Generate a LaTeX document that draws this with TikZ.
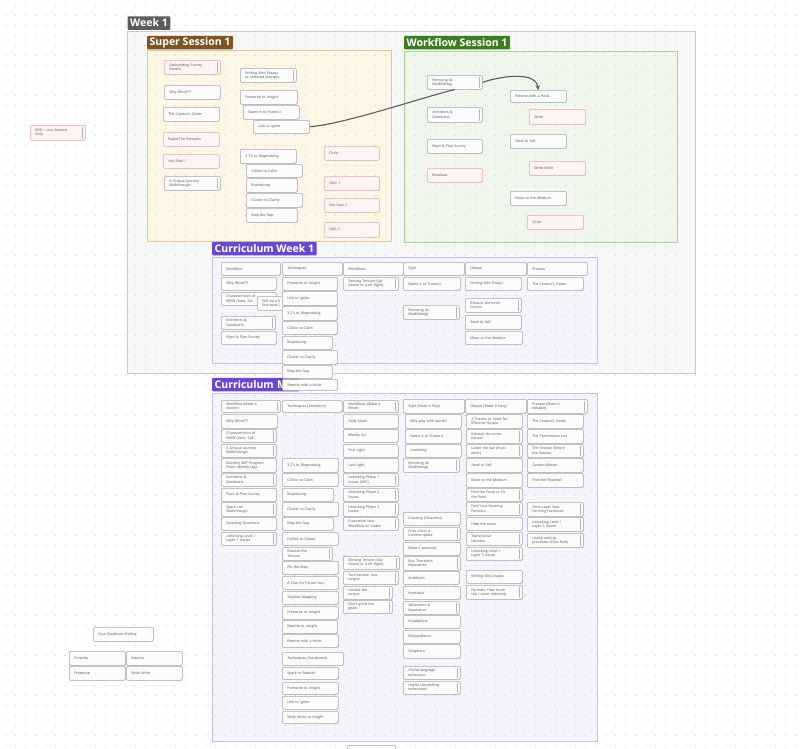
\documentclass[tikz,border=0pt]{standalone}
\usepackage{fontspec}
\setmainfont{Open Sans}
\usetikzlibrary{arrows.meta,shadows}
\definecolor{dotc}{HTML}{CFCFCF}
\definecolor{wkfill}{HTML}{F7F7F7}
\definecolor{wkdraw}{HTML}{CCCCCC}
\definecolor{ssfill}{HTML}{FDF6E6}
\definecolor{ssdraw}{HTML}{E4C88F}
\definecolor{wffill}{HTML}{F0F6EC}
\definecolor{wfdraw}{HTML}{A9D19A}
\definecolor{cufill}{HTML}{F5F3FC}
\definecolor{cudraw}{HTML}{C6BDEA}
\definecolor{wklab}{HTML}{5C5C5C}
\definecolor{sslab}{HTML}{7D5423}
\definecolor{wflab}{HTML}{3E7D22}
\definecolor{culab}{HTML}{6A48CC}
\definecolor{gfill}{HTML}{FBFBFB}
\definecolor{gbd}{HTML}{A8A8A8}
\definecolor{pfill}{HTML}{FFF4F3}
\definecolor{pbd}{HTML}{E9A9A6}
\definecolor{sbc}{HTML}{B5B5B5}
\definecolor{txt}{HTML}{555555}
\definecolor{connc}{HTML}{5C5C5C}
\tikzset{
  frame/.style={line width=0.8pt},
  lab/.style={text=white, font=\fontsize{10.5}{12}\selectfont\bfseries, inner xsep=2.5pt, inner ysep=0pt, minimum height=13.5pt, anchor=south west, rounded corners=0.8pt},
  basebox/.style={line width=0.55pt, rounded corners=1.2pt, drop shadow={shadow xshift=0.3pt,shadow yshift=-0.5pt,opacity=0.18}, inner xsep=2pt, inner ysep=0.3pt, align=left, font=\fontsize{3.6}{4.3}\selectfont, text=txt},
  gbox/.style={basebox, draw=gbd, fill=gfill},
  pbox/.style={basebox, draw=pbd, fill=pfill},
  conn/.style={draw=connc, line width=1.1pt},
}
\newcommand\bxx[7]{%
  \pgfmathsetmacro\Bw{#5-#3}%
  \pgfmathsetmacro\Bh{#6-#4}%
  \pgfmathsetmacro\Tw{#5-#3-10}%
  \node[#1, anchor=north west, minimum width=\Bw pt, minimum height=\Bh pt, text width=\Tw pt] (#2) at (#3,#4) {#7};}
\newcommand\sbar[1]{\fill[sbc] ([xshift=-3.4pt,yshift=-2pt]#1.north east) rectangle ([xshift=-2.1pt,yshift=2pt]#1.south east);}
\newcommand\bgr[6]{\bxx{gbox}{#1}{#2}{#3}{#4}{#5}{#6}}
\newcommand\bgs[6]{\bxx{gbox}{#1}{#2}{#3}{#4}{#5}{#6}\sbar{#1}}
\newcommand\bpk[6]{\bxx{pbox}{#1}{#2}{#3}{#4}{#5}{#6}}
\newcommand\bps[6]{\bxx{pbox}{#1}{#2}{#3}{#4}{#5}{#6}\sbar{#1}}
\begin{document}
\begin{tikzpicture}[x=1pt,y=-1pt]
\useasboundingbox (0,0) rectangle (800,748);
\fill[white] (0,0) rectangle (800,748);
% frames
\draw[frame, fill=wkfill, draw=wkdraw] (127,31) rectangle (695,373);
\draw[frame, fill=ssfill, draw=ssdraw] (147,50) rectangle (391,241);
\draw[frame, fill=wffill, draw=wfdraw] (404,51) rectangle (677,242);
\draw[frame, fill=cufill, draw=cudraw] (212,257) rectangle (597,363);
\draw[frame, fill=cufill, draw=cudraw] (212,393) rectangle (597,741);
% dot grid
\foreach \yy in {5,15,...,745} {\draw[dotc, line width=0.9pt, dash pattern=on 0.9pt off 9.1pt] (4.55,\yy) -- (800,\yy);}
% labels
\node[lab, fill=wklab] (wk) at (127.5,30) {Week 1};
\node[lab, fill=sslab] (sslab) at (147,49.5) {Super Session 1};
\node[lab, fill=wflab] (wflab) at (404,49.5) {Workflow Session 1};
\node[lab, fill=culab] (cu1lab) at (212,255.5) {Curriculum Week 1};
\node[lab, fill=culab, text width=82pt, align=left] (cumlab) at (212,391.5) {Curriculum M};
% left
\bps{red}{30}{125}{85}{140}{RED = Live Session\\Only}
% Super Session 1
\bps{ss1}{164}{60}{220}{74}{Onboarding Survey\\Results}
\bgs{ss2}{240}{68}{296}{82}{Writing Mini Essays\\or selected Excerpts}
\bgr{ss3}{164}{85}{220}{99}{Why Write???}
\bgr{ss4}{240}{90}{297}{104}{Freewrite to Insight}
\bgr{ss5}{243}{105}{299}{119}{Name it to Frame it}
\bgr{ss6}{163}{107}{219}{121}{The Creator's Codex}
\bgr{ss7}{253}{120}{309}{133}{Link to Ignite}
\bpk{ss8}{163}{132}{219}{146}{Rapid-Fire Remarks}
\bpk{ss9}{163}{154}{219}{168}{Hot Seat 1}
\bgs{ss10}{164}{176}{220}{190}{A Unique Journey\\Walkthrough}
\bgr{ss11}{240}{149}{296}{163}{3 C's to Mapmaking}
\bgr{ss12}{246}{164}{302}{177}{Collect to Calm}
\bgr{ss13}{246}{178}{297}{192}{Braindump}
\bgr{ss14}{246}{193}{302}{207}{Cluster to Clarify}
\bgr{ss15}{246}{208}{297}{222}{Map the Gap}
\bpk{ss16}{324}{146}{379}{160}{Circle}
\bpk{ss17}{324}{176}{379}{190}{Q\&A 1}
\bpk{ss18}{324}{198}{379}{212}{Hot Seat 2}
\bpk{ss19}{324}{222}{379}{237}{Q\&A 2}
% Workflow Session 1
\bgs{wf1}{427}{75}{482}{89}{Remixing (\&\\Madlibbing)}
\bgr{wf2}{510}{90}{566}{102}{Rewrite with a Hook}
\bgs{wf3}{427}{107}{482}{122}{Architects \&\\Gardeners}
\bpk{wf4}{529}{109}{585}{124}{Write}
\bgr{wf5}{427}{139}{482}{153}{Plant \& Plan Survey}
\bgr{wf6}{510}{134}{566}{148}{Send to Self}
\bpk{wf7}{427}{168}{482}{182}{Breakout}
\bpk{wf8}{529}{161}{585}{175}{Write Write}
\bgr{wf9}{510}{191}{566}{205}{Move to the Medium}
\bpk{wf10}{527}{215}{583}{229}{Circle}
% Curriculum Week 1
\bgr{c1a}{221}{262}{280}{275}{Workflow}
\bgr{c1b}{221}{277}{276}{290}{Why Write???}
\bgr{c1c}{221}{292}{276}{305}{Characteristics of\\WDW (here, Sel}
\bgr{c1w}{257}{296}{300}{310}{Will be a fi\\fine-tune (}
\bgs{c1d}{221}{316}{275}{329}{Architects \&\\Gardeners}
\bgr{c1e}{221}{331}{276}{344}{Plant \& Plan Survey}
\bgr{c2a}{282}{262}{342}{275}{Techniques}
\bgr{c2b}{282}{277}{337}{290}{Freewrite to Insight}
\bgr{c2c}{282}{291}{337}{305}{Link to Ignite}
\bgr{c2d}{282}{306}{337}{320}{3 C's to Mapmaking}
\bgr{c2e}{282}{321}{337}{334}{Collect to Calm}
\bgr{c2f}{282}{336}{332}{349}{Braindump}
\bgr{c2g}{282}{350}{337}{364}{Cluster to Clarify}
\bgr{c2h}{282}{365}{332}{378}{Map the Gap}
\bgr{c2i}{282}{379}{337}{390}{Rewrite with a Hook}
\bgr{c3a}{343}{262}{403}{275}{Workflows}
\bgs{c3b}{343}{277}{398}{290}{Sensing Tension (Up\\Down) or (Left Right)}
\bgr{c4a}{403}{262}{464}{275}{Style}
\bgr{c4b}{403}{277}{460}{290}{Name it to Frame it}
\bgs{c4c}{403}{305}{459}{319}{Remixing (\&\\Madlibbing)}
\bgr{c5a}{465}{262}{526}{275}{Output}
\bgr{c5b}{465}{277}{521}{290}{Writing Mini Essays}
\bgs{c5c}{465}{298}{521}{312}{Exhaust the Inner\\Censor}
\bgr{c5d}{465}{315}{521}{329}{Send to Self}
\bgr{c5e}{465}{331}{522}{344}{Move to the Medium}
\bgr{c6a}{527}{262}{587}{275}{Process}
\bgr{c6b}{527}{277}{583}{290}{The Creator's Codex}
% Curriculum M
\bgs{m1a}{221}{400}{280}{412}{Workflow (Make it\\Matter)}
\bgr{m1b}{221}{414}{277}{428}{Why Write???}
\bgs{m1c}{221}{429}{276}{442}{Characteristics of\\WDW (here, Self-}
\bgs{m1d}{221}{444}{276}{457}{A Unique Journey\\Walkthrough}
\bgr{m1e}{221}{458}{276}{472}{Monthly WIP Progress\\Posts Identify tags}
\bgs{m1f}{221}{473}{276}{486}{Architects \&\\Gardeners}
\bgr{m1g}{221}{488}{276}{501}{Plant \& Plan Survey}
\bgs{m1h}{221}{502}{276}{516}{Spark List\\Walkthrough}
\bgr{m1i}{221}{517}{276}{530}{Questing Questions}
\bgs{m1j}{221}{532}{276}{545}{Unlocking Level /\\Layer 1 Issues}
\bgr{m2a}{282}{400}{342}{412}{Techniques (Architects)}
\bgr{m2b}{282}{458}{338}{472}{3 C's to Mapmaking}
\bgr{m2c}{282}{473}{338}{486}{Collect to Calm}
\bgr{m2d}{282}{488}{333}{501}{Braindump}
\bgr{m2e}{282}{502}{338}{516}{Cluster to Clarify}
\bgr{m2f}{282}{517}{333}{530}{Map the Gap}
\bgr{m2g}{282}{532}{338}{545}{Collide to Create}
\bgs{m2h}{282}{547}{332}{560}{Resolve the\\Tension}
\bgr{m2i}{282}{561}{338}{574}{Pin the Map}
\bgr{m2j}{282}{576}{338}{589}{A Clue for Future You}
\bgr{m2k}{282}{591}{338}{604}{Shadow Mapping}
\bgr{m2l}{282}{606}{338}{619}{Freewrite to Insight}
\bgr{m2m}{282}{620}{337}{633}{Rewrite to Insight}
\bgr{m2n}{282}{634}{338}{647}{Rewrite with a Hook}
\bgr{m2o}{282}{652}{343}{665}{Techniques (Gardeners)}
\bgr{m2p}{282}{667}{338}{679}{Spark to Rework}
\bgr{m2q}{282}{682}{338}{694}{Freewrite to Insight}
\bgr{m2r}{282}{696}{338}{709}{Link to Ignite}
\bgr{m2s}{282}{711}{338}{723}{Write Write to Insight}
\bgs{m3a}{343}{400}{398}{412}{Workflows (Make it\\Move)}
\bgr{m3b}{343}{414}{398}{428}{Daily Spark}
\bgr{m3c}{343}{429}{398}{442}{Weekly Arc}
\bgr{m3d}{343}{444}{398}{457}{First Light}
\bgr{m3e}{343}{458}{398}{472}{Last Light}
\bgs{m3f}{343}{473}{398}{486}{Unlocking Phase 1\\Issues (ARC)}
\bgs{m3g}{343}{488}{398}{501}{Unlocking Phase 2\\Issues}
\bgs{m3h}{343}{502}{398}{516}{Unlocking Phase 3\\Issues}
\bgs{m3i}{343}{517}{398}{530}{Customize Your\\Workflow w/ Codex}
\bgs{m3j}{343}{556}{399}{569}{Sensing Tension (Up\\Down) or (Left Right)}
\bgs{m3k}{343}{571}{398}{584}{Turn tension into\\torque}
\bgs{m3l}{343}{586}{392}{599}{Unstick the\\torque}
\bgs{m3m}{343}{600}{392}{613}{Don't grind the\\gears}
\bgr{m4a}{403}{399}{464}{413}{Style (Make it Pop)}
\bgr{m4b}{405}{414}{461}{428}{Why play with words?}
\bgr{m4c}{405}{429}{461}{443}{Name it to Frame it}
\bgr{m4d}{405}{444}{461}{457}{Unwriting}
\bgs{m4e}{403}{458}{459}{472}{Remixing (\&\\Madlibbing)}
\bgr{m4f}{403}{512}{460}{525}{Crossing (Chiasmus)}
\bgs{m4g}{403}{527}{460}{540}{Criss-Cross a\\Commonplace}
\bgr{m4h}{403}{542}{460}{555}{Make it personal}
\bgs{m4i}{403}{556}{460}{570}{But, Therefore,\\Meanwhile}
\bgr{m4j}{403}{571}{459}{584}{Antithesis}
\bgr{m4k}{403}{586}{460}{599}{Antistasis}
\bgs{m4l}{403}{601}{459}{614}{Alliteration \&\\Assonance}
\bgr{m4m}{403}{615}{460}{628}{Anadiplosis}
\bgr{m4n}{403}{630}{460}{643}{Polysyndeton}
\bgr{m4o}{403}{644}{460}{658}{Anaphora}
\bgs{m4p}{403}{666}{460}{679}{Useful language\\enhancers}
\bgs{m4q}{403}{681}{460}{694}{Useful storytelling\\techniques}
\bgr{m5a}{465}{399}{526}{413}{Output (Make it Easy)}
\bgr{m5b}{466}{414}{522}{428}{3 Puzzles to Solve for\\Effective Output}
\bgs{m5c}{466}{429}{522}{443}{Exhaust the Inner\\Censor}
\bgs{m5d}{466}{444}{522}{457}{Lower the bar (must\\write)}
\bgr{m5e}{466}{458}{522}{472}{Send to Self}
\bgr{m5f}{466}{473}{522}{487}{Move to the Medium}
\bgs{m5g}{466}{488}{522}{501}{Find the Form to Fit\\the Point}
\bgs{m5h}{466}{502}{522}{515}{Find Your Forming\\Function}
\bgr{m5i}{466}{517}{522}{530}{Hide the notes}
\bgs{m5j}{466}{532}{522}{545}{Transitional\\Ideation}
\bgs{m5k}{466}{547}{522}{560}{Unlocking Level /\\Layer 3 Issues}
\bgr{m5l}{466}{570}{522}{583}{Writing Mini Essays}
\bgs{m5m}{466}{585}{522}{599}{Formats, How much\\can I cover indirectly}
\bgs{m6a}{527}{399}{587}{413}{Process (Make it\\Reliable)}
\bgr{m6b}{527}{414}{583}{428}{The Creator's Codex}
\bgr{m6c}{527}{429}{583}{443}{The Permissions List}
\bgs{m6d}{527}{444}{583}{457}{The Session Before\\the Session}
\bgr{m6e}{527}{458}{583}{472}{Garden Master}
\bgr{m6f}{527}{473}{583}{487}{Find the Flywheel}
\bgs{m6g}{527}{502}{583}{516}{Time-Layer Your\\Forming Functions}
\bgs{m6h}{527}{517}{583}{531}{Unlocking Level /\\Layer 2 Issues}
\bgs{m6i}{527}{533}{583}{547}{Useful writing\\processes (Grav-Bob)}
% bottom left
\bgr{q0}{93}{627}{153}{641}{Four Quadrant Writing}
\bgr{q1}{69}{651}{125}{665}{Prewrite}
\bgr{q2}{126}{651}{182}{665}{Rewrite}
\bgr{q3}{69}{666}{125}{680}{Freewrite}
\bgr{q4}{126}{666}{182}{680}{Write Write}
% partial node at bottom edge
\bgr{bot}{347}{745}{395}{760}{}
% connectors
\draw[conn] (ss7.east) .. controls (345,124) and (420,98) .. (wf1.south);
\draw[conn, -{Stealth[length=4.5pt,width=4.5pt]}] (wf1.east) .. controls (505,75) and (536,72) .. (wf2.north);
\end{tikzpicture}
\end{document}
